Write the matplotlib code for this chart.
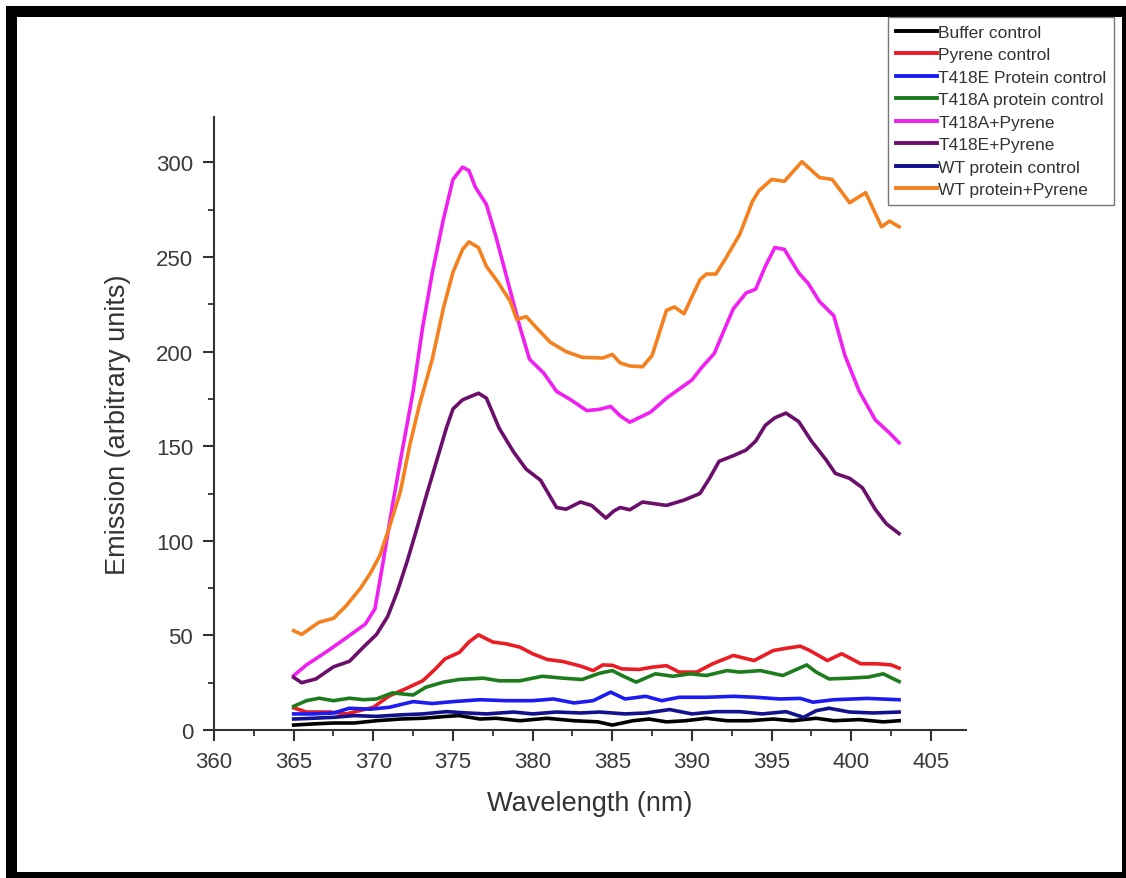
import matplotlib
matplotlib.use("Agg")
import matplotlib.pyplot as plt
from matplotlib.patches import Rectangle
from matplotlib.ticker import MultipleLocator

# Dati (lunghezza d'onda in nm, emissione in unita arbitrarie)
buffer_x = [365.0, 366.2, 367.5, 368.8, 370.2, 371.7, 373.1, 374.6, 375.4, 376.7, 377.7, 379.2, 380.9,
            382.6, 384.1, 385.0, 386.3, 387.3, 388.4, 389.6, 390.9, 392.2, 393.6, 395.1, 396.3, 397.8,
            398.9, 400.5, 402.0, 403.0]
buffer_y = [2.6, 3.2, 3.7, 3.7, 4.9, 5.8, 6.2, 7.2, 7.6, 5.8, 6.2, 4.9, 6.2,
            4.9, 4.3, 2.6, 4.9, 5.8, 4.3, 4.9, 6.2, 4.9, 4.9, 5.8, 4.9, 6.2,
            4.9, 5.5, 4.3, 4.9]

pyrene_x = [365.0, 365.8, 367.3, 368.3, 370.0, 371.0, 372.0, 373.1, 373.9, 374.5, 375.4, 376.0, 376.6,
            377.5, 378.3, 379.2, 380.0, 380.9, 381.9, 383.0, 383.8, 384.4, 385.0, 385.6, 386.7, 387.5,
            388.4, 389.2, 390.3, 391.3, 392.6, 393.9, 395.1, 396.0, 396.8, 397.4, 398.5, 399.4, 400.6,
            401.6, 402.5, 403.0]
pyrene_y = [11.7, 9.5, 9.5, 8.5, 12, 18, 21.7, 26, 32.3, 37.6, 41, 46.5, 50.3,
            46.5, 45.6, 43.8, 40.3, 37.3, 36.2, 33.8, 31.4, 34.4, 34.2, 32.3, 32, 33.2,
            34, 30.6, 30.6, 35, 39.4, 36.7, 42, 43.3, 44.3, 42, 36.7, 40.3, 35,
            35, 34.4, 32.7]

t418e_x = [365.0, 366.2, 367.5, 368.5, 369.8, 371.0, 372.5, 373.7, 375.0, 376.7, 378.3, 380.0, 381.3,
           382.6, 383.8, 384.9, 385.8, 387.1, 388.1, 389.2, 390.9, 392.6, 394.0, 395.5, 396.8, 397.6,
           398.9, 401.0, 403.0]
t418e_y = [8.5, 8.5, 9, 11.5, 11, 12, 15, 14, 15, 16, 15.5, 15.5, 16.4,
           14.3, 15.5, 20, 16.4, 17.8, 15.5, 17.3, 17.3, 17.8, 17.3, 16.4, 16.7, 14.7,
           16, 16.7, 16]

t418a_x = [365.0, 365.8, 366.6, 367.5, 368.5, 369.4, 370.2, 371.2, 372.5, 373.3, 374.4, 375.4, 376.9,
           377.9, 379.2, 380.6, 381.9, 383.1, 384.2, 385.0, 385.6, 386.5, 387.7, 388.8, 389.9, 390.9,
           392.2, 393.0, 394.3, 395.7, 397.2, 397.8, 398.6, 399.9, 401.1, 402.0, 403.0]
t418a_y = [12.5, 15.5, 16.8, 15.5, 16.8, 16, 16.4, 19.6, 18.5, 22.6, 25.3, 26.7, 27.4,
           26, 26, 28.4, 27.4, 26.7, 30, 31.4, 28.8, 25.3, 29.7, 28.4, 29.7, 28.8,
           31.4, 30.6, 31.4, 28.8, 34.4, 30.6, 27, 27.4, 28, 29.7, 25.6]

t418a_pyr_x = [365.0, 365.8, 367.0, 368.3, 369.5, 370.1, 370.6, 371.2, 371.8, 372.5, 373.1, 373.7, 374.4,
               375.0, 375.6, 376.0, 376.4, 377.1, 377.7, 378.6, 379.2, 379.8, 380.7, 381.5, 382.4, 383.4,
               384.2, 384.9, 385.5, 386.1, 387.4, 388.4, 389.5, 390.0, 390.6, 391.4, 392.0, 392.6, 393.4,
               394.0, 394.6, 395.2, 395.8, 396.7, 397.3, 398.0, 398.9, 399.6, 400.5, 401.5, 402.4, 403.0]
t418a_pyr_y = [28.7, 34.4, 41, 48.7, 56, 64, 88, 118.7, 147, 179, 213, 241.6, 270,
               291, 297.5, 295.7, 287, 277.7, 260.7, 232, 213, 196, 188.6, 179, 174.5, 168.8,
               169.5, 171, 166, 162.7, 168, 175.4, 182, 185, 191.5, 199, 211, 222.7, 231,
               233, 245, 255, 254, 241.6, 236, 226.5, 219, 198, 179, 164, 157, 151.8]

t418e_pyr_x = [365.0, 365.5, 366.4, 367.5, 368.5, 369.4, 370.2, 370.9, 371.5, 372.1, 372.7, 373.4, 374.0,
               374.6, 375.0, 375.6, 376.6, 377.1, 377.9, 378.8, 379.6, 380.5, 381.5, 382.1, 383.0, 383.7,
               384.6, 385.1, 385.5, 386.1, 386.9, 388.4, 389.5, 390.5, 391.1, 391.7, 392.6, 393.4, 394.0,
               394.6, 395.2, 395.9, 396.7, 397.5, 398.4, 399.0, 399.9, 400.7, 401.5, 402.2, 403.0]
t418e_pyr_y = [27.8, 25, 27, 33.4, 36.3, 44, 50.5, 60, 73, 88.5, 105.5, 126, 143,
               160, 169.7, 174.5, 178, 175.4, 159.5, 147, 137.8, 132, 117.6, 116.7, 120.5, 118.7,
               112, 115.8, 117.6, 116.4, 120.5, 118.7, 121.5, 125, 133, 142, 145, 148, 152.7,
               161, 165, 167.5, 163, 152.7, 143, 135.6, 133, 128, 116.7, 109, 103.8]

wt_x = [365.0, 366.2, 367.5, 368.8, 370.2, 371.7, 373.1, 374.6, 375.9, 377.1, 378.8, 380.0, 381.5,
        383.0, 384.2, 385.8, 387.1, 388.6, 390.0, 391.5, 393.0, 394.4, 395.9, 397.0, 397.8, 398.6,
        399.9, 401.4, 403.0]
wt_y = [5.8, 6.2, 6.7, 7.6, 7.2, 8, 8.5, 9.7, 9, 8.5, 9.5, 8.5, 9.5,
        9, 9.5, 8.5, 9, 10.8, 8.5, 9.7, 9.7, 8.5, 9.7, 6.7, 10.2, 11.5,
        9.5, 9, 9.5]

wt_pyr_x = [365.0, 365.5, 366.6, 367.5, 368.3, 369.2, 369.8, 370.4, 371.0, 371.7, 372.3, 372.9, 373.7,
            374.4, 375.0, 375.6, 376.0, 376.6, 377.1, 377.8, 378.6, 379.0, 379.6, 380.2, 381.1, 382.1,
            383.1, 384.4, 385.0, 385.5, 386.1, 386.9, 387.5, 388.4, 388.9, 389.5, 390.5, 390.9, 391.5,
            392.1, 393.0, 393.8, 394.2, 395.0, 395.8, 396.9, 398.0, 398.8, 399.9, 400.9, 401.9, 402.4,
            403.0]
wt_pyr_y = [52.5, 50.5, 57, 59, 65.7, 75, 82.7, 92, 107, 126, 151, 172, 196,
            223, 242, 254, 258, 255, 245, 237, 226.5, 217, 218.5, 213, 205, 200,
            197, 196.6, 198.5, 194, 192.4, 192, 198, 221.8, 223.6, 220, 238, 241, 241,
            249, 262, 279.5, 285, 291, 290, 300.4, 292, 291, 278.7, 284, 266, 269,
            266]

series = [
    ("Buffer control", buffer_x, buffer_y, "#000000"),
    ("Pyrene control", pyrene_x, pyrene_y, "#ea1c24"),
    ("T418E Protein control", t418e_x, t418e_y, "#1c1cf0"),
    ("T418A protein control", t418a_x, t418a_y, "#1d7d1d"),
    ("T418A+Pyrene", t418a_pyr_x, t418a_pyr_y, "#f020f0"),
    ("T418E+Pyrene", t418e_pyr_x, t418e_pyr_y, "#6c0e6c"),
    ("WT protein control", wt_x, wt_y, "#12128e"),
    ("WT protein+Pyrene", wt_pyr_x, wt_pyr_y, "#f5801e"),
]

plt.rcParams["font.family"] = ["Liberation Sans", "DejaVu Sans"]

W, H = 1126, 879
fig = plt.figure(figsize=(W / 100, H / 100), dpi=100)

# Cornice nera attorno all'immagine (piu spessa a sinistra e in alto)
fig.add_artist(Rectangle((6 / W, 0), 1 - 6 / W, 872 / H, transform=fig.transFigure,
                         facecolor="black", edgecolor="none", zorder=-10))
fig.add_artist(Rectangle((17 / W, 6 / H), (1122 - 17) / W, (861 - 6) / H, transform=fig.transFigure,
                         facecolor="white", edgecolor="none", zorder=-9))

ax = fig.add_axes([214 / W, 148 / H, (966 - 214) / W, (761 - 148) / H])
ax.patch.set_alpha(0)

for label, xs, ys, color in series:
    ax.plot(xs, ys, color=color, lw=2.6, label=label, solid_joinstyle="round")

ax.set_xlim(360, 407.2)
ax.set_ylim(0, 324)
ax.xaxis.set_major_locator(MultipleLocator(5))
ax.xaxis.set_minor_locator(MultipleLocator(2.5))
ax.yaxis.set_major_locator(MultipleLocator(50))
ax.yaxis.set_minor_locator(MultipleLocator(25))

for side in ["top", "right"]:
    ax.spines[side].set_visible(False)
for side in ["left", "bottom"]:
    ax.spines[side].set_linewidth(1.5)
    ax.spines[side].set_color("#333333")

ax.tick_params(which="major", direction="out", length=8, width=1.5, colors="#333333",
               labelsize=16, pad=7)
ax.tick_params(which="minor", direction="out", length=4.5, width=1.3, colors="#333333")
for lab in ax.get_xticklabels() + ax.get_yticklabels():
    lab.set_color("#3a3a3a")

ax.set_xlabel("Wavelength (nm)", fontsize=19.5, color="#333333", labelpad=13)
ax.set_ylabel("Emission (arbitrary units)", fontsize=19.5, color="#333333", labelpad=18)

# Legenda nell'angolo in alto a destra
leg = fig.legend(loc="upper left", bbox_to_anchor=(888 / W, 861 / H), fontsize=12.5,
                 frameon=True, fancybox=False, borderpad=0.45, labelspacing=0.42,
                 handlelength=2.4, handletextpad=0.05, borderaxespad=0)
leg.get_frame().set_edgecolor("#555555")
leg.get_frame().set_linewidth(1.0)
for line in leg.get_lines():
    line.set_linewidth(2.8)
for text in leg.get_texts():
    text.set_color("#333333")

fig.savefig("out.png", dpi=100)
